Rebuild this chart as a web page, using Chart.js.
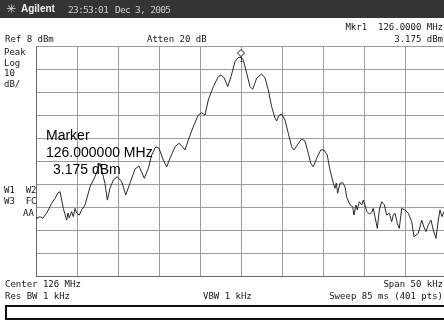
<!DOCTYPE html>
<html>
<head>
<meta charset="utf-8">
<script src="https://cdn.jsdelivr.net/npm/chart.js@4/dist/chart.umd.min.js"></script>
<style>
  html, body { margin: 0; padding: 0; background: #fff; }
  body { width: 444px; height: 321px; overflow: hidden; position: relative; }
  #wrap { position: absolute; left: 0; top: 0; width: 452px; height: 321px; }
  .t { position: absolute; font-family: "DejaVu Sans Mono", "Liberation Mono", monospace;
       font-size: 9px; line-height: 9px; color: #151515; white-space: pre; }
  .r { text-align: right; right: 1px; }
  #hdr { position: absolute; left: 0; top: 0; width: 444px; height: 18px; background: #343434; }
  #hdr .logo { position: absolute; left: 6px; top: 2px; font: 12px "DejaVu Sans"; line-height: 14px; color: #d8d8d8; }
  #hdr .brand { position: absolute; left: 21px; top: 3px; font: bold 10px "Liberation Sans", Arial, sans-serif; line-height: 12px; color: #f2f2f2; }
  #hdr .clk { position: absolute; top: 4.5px; font-family: "DejaVu Sans Mono", monospace; font-size: 9.5px; line-height: 10px;
              letter-spacing: -0.7px; color: #cfcfcf; white-space: pre; }
  .big { position: absolute; font-family: "Liberation Sans", Arial, sans-serif; font-size: 14px; line-height: 14px; color: #000; white-space: pre; }
  #msgbox { position: absolute; left: 5px; top: 305px; width: 445px; height: 15px; box-sizing: border-box;
            border: 2px solid #111; background: #fff; }
</style>
</head>
<body>
<div id="wrap"><canvas id="c" width="452" height="321"></canvas></div>

<div id="hdr">
  <span class="logo">✳</span>
  <span class="brand">Agilent</span>
  <span class="clk" style="left:68px">23:53:01</span>
  <span class="clk" style="left:115px">Dec 3, 2005</span>
</div>

<div class="t r" style="top:22.5px">Mkr1  126.0000 MHz</div>
<div class="t" style="left:5px; top:34.5px">Ref 8 dBm</div>
<div class="t" style="left:147px; top:34.5px">Atten 20 dB</div>
<div class="t r" style="top:34.5px">3.175 dBm</div>

<div class="t" style="left:4px; top:48px">Peak</div>
<div class="t" style="left:4px; top:58.7px">Log</div>
<div class="t" style="left:4px; top:69.4px">10</div>
<div class="t" style="left:4px; top:80px">dB/</div>

<div class="t" style="left:4px; top:185.5px">W1  W2</div>
<div class="t" style="left:4px; top:197px">W3  FC</div>
<div class="t" style="left:23px; top:208.5px">AA</div>

<div class="big" style="left:46px; top:128px">Marker</div>
<div class="big" style="left:46px; top:145px">126.000000 MHz</div>
<div class="big" style="left:53px; top:162px">3.175 dBm</div>

<div class="t" style="left:5px; top:279.5px">Center 126 MHz</div>
<div class="t r" style="top:279.5px">Span 50 kHz</div>
<div class="t" style="left:5px; top:292px">Res BW 1 kHz</div>
<div class="t" style="left:203px; top:292px">VBW 1 kHz</div>
<div class="t r" style="top:292px">Sweep 85 ms (401 pts)</div>

<div id="msgbox"></div>

<script>
// Sweep: centre 126 MHz, span 50 kHz; frequencies are offsets from centre in kHz.
const freqOffsetKHz = [
  -25.00, -24.91, -24.51, -24.18, -23.90, -23.70, -23.09, -22.68, -22.32, -22.07,
  -21.67, -21.26, -21.10, -20.94, -20.65, -20.45, -20.24, -20.04, -19.72, -19.43,
  -19.02, -18.41, -17.80, -17.20, -16.79, -16.59, -16.30, -15.98, -15.57, -15.09,
  -14.55, -14.06, -13.54, -12.93, -12.44, -11.79, -11.30, -10.89, -10.40, -10.00,
  -9.48, -9.06, -8.66, -8.05, -7.56, -7.20, -6.83, -6.43, -5.82, -5.21,
  -4.79, -4.39, -3.99, -3.38, -2.77, -2.44, -2.04, -1.62, -1.22, -0.73,
  -0.33, 0.00, 0.28, 0.70, 1.10, 1.43, 1.91, 2.52, 2.93, 3.33,
  3.74, 4.15, 4.35, 4.67, 4.96, 5.37, 5.77, 6.18, 6.46, 6.87,
  7.40, 7.80, 8.21, 8.50, 8.82, 9.23, 9.72, 10.12, 10.52, 10.85,
  11.26, 11.46, 11.62, 11.79, 12.07, 12.40, 12.68, 12.89, 13.29, 13.62,
  13.78, 14.02, 14.18, 14.43, 14.72, 14.91, 15.12, 15.33, 15.65, 15.94,
  16.13, 16.34, 16.62, 16.87, 17.16, 17.48, 17.77, 18.09, 18.38, 18.57,
  18.78, 19.06, 19.30, 19.60, 20.00, 20.40, 20.82, 21.10, 21.34, 21.62,
  22.04, 22.32, 22.56, 22.84, 23.17, 23.45, 23.78, 24.06, 24.27, 24.51,
  24.76, 25.00
];
// Trace 1 amplitude in dBm at each frequency above.
const traceDbm = [
  -66.5, -66.9, -66.2, -66.9, -65.5, -64.7, -60.4, -58.2, -55.9, -55.3,
  -62.6, -67.7, -64.6, -66.8, -64.0, -66.2, -62.6, -64.7, -65.5, -63.3,
  -61.1, -53.2, -48.8, -43.0, -48.8, -51.7, -59.0, -53.9, -50.3, -48.8,
  -51.0, -56.8, -51.7, -45.5, -44.2, -49.5, -45.2, -39.4, -35.8, -36.5,
  -41.6, -44.5, -40.8, -35.8, -34.3, -35.5, -37.2, -32.9, -27.1, -22.0,
  -21.0, -22.0, -15.5, -9.7, -5.3, -4.6, -5.9, -9.7, -5.3, 1.2,
  3.0, 3.175, 1.9, -3.9, -9.7, -10.8, -6.0, -4.2, -5.9, -11.1,
  -18.4, -23.4, -24.6, -22.0, -21.6, -24.2, -30.0, -35.8, -37.2, -35.0,
  -32.4, -33.3, -38.7, -43.0, -44.5, -40.8, -37.2, -37.2, -39.4, -45.9,
  -51.7, -53.9, -51.6, -56.0, -51.7, -51.4, -53.2, -57.7, -61.1, -61.9,
  -65.5, -61.1, -63.3, -59.7, -61.1, -59.0, -61.1, -64.0, -65.0, -64.5,
  -62.6, -66.2, -71.3, -63.3, -59.7, -61.1, -65.5, -64.7, -68.4, -65.5,
  -64.7, -69.1, -71.3, -62.6, -63.3, -64.7, -68.4, -74.9, -74.2, -73.4,
  -67.7, -70.8, -72.7, -69.8, -67.7, -72.0, -75.6, -67.7, -63.3, -66.2,
  -64.0, -65.5
];
// Graticule: 10 dB/div below the 8 dBm reference, 5 kHz/div across the span.
const amplitudeDivisions = [-92, -82, -72, -62, -52, -42, -32, -22, -12, -2, 8];
const frequencyDivisions = [-25, -20, -15, -10, -5, 0, 5, 10, 15, 20, 25];
// Marker 1
const markerFreqKHz = [0];
const markerDbm = [3.175];

const markerPlugin = {
  id: 'marker1',
  afterDatasetsDraw(chart) {
    const { ctx, scales } = chart;
    const px = scales.x.getPixelForValue(markerFreqKHz[0]);
    const py = scales.y.getPixelForValue(markerDbm[0]);
    const cy = py - 4, s = 3.5;
    ctx.save();
    ctx.beginPath();
    ctx.moveTo(px, cy - s); ctx.lineTo(px + s, cy); ctx.lineTo(px, cy + s); ctx.lineTo(px - s, cy);
    ctx.closePath();
    ctx.fillStyle = '#fff'; ctx.fill();
    ctx.strokeStyle = '#111'; ctx.lineWidth = 1; ctx.stroke();
    ctx.fillStyle = '#111';
    ctx.font = '7px "DejaVu Sans Mono"';
    ctx.textAlign = 'center'; ctx.textBaseline = 'top';
    ctx.fillText('1', px, cy + s + 0.5);
    ctx.restore();
  }
};

const gridStyle = { color: '#9c9c9c', lineWidth: 1, drawTicks: false };

new Chart(document.getElementById('c'), {
  type: 'line',
  data: {
    datasets: [{
      data: freqOffsetKHz.map((f, i) => ({ x: f, y: traceDbm[i] })),
      borderColor: '#2a2a2a',
      borderWidth: 1,
      pointRadius: 0,
      tension: 0,
      fill: false
    }]
  },
  options: {
    responsive: false,
    animation: false,
    devicePixelRatio: 1,
    layout: { padding: { left: 36, top: 46, right: 6, bottom: 45 } },
    plugins: { legend: { display: false }, tooltip: { enabled: false } },
    scales: {
      x: {
        type: 'linear', min: -25, max: 25,
        afterBuildTicks: s => { s.ticks = frequencyDivisions.map(v => ({ value: v })); },
        ticks: { display: false },
        grid: gridStyle,
        border: { display: true, color: '#6a6a6a', width: 1 }
      },
      y: {
        type: 'linear', min: -92, max: 8,
        afterBuildTicks: s => { s.ticks = amplitudeDivisions.map(v => ({ value: v })); },
        ticks: { display: false },
        grid: gridStyle,
        border: { display: true, color: '#6a6a6a', width: 1 }
      }
    }
  },
  plugins: [markerPlugin]
});
</script>
</body>
</html>
